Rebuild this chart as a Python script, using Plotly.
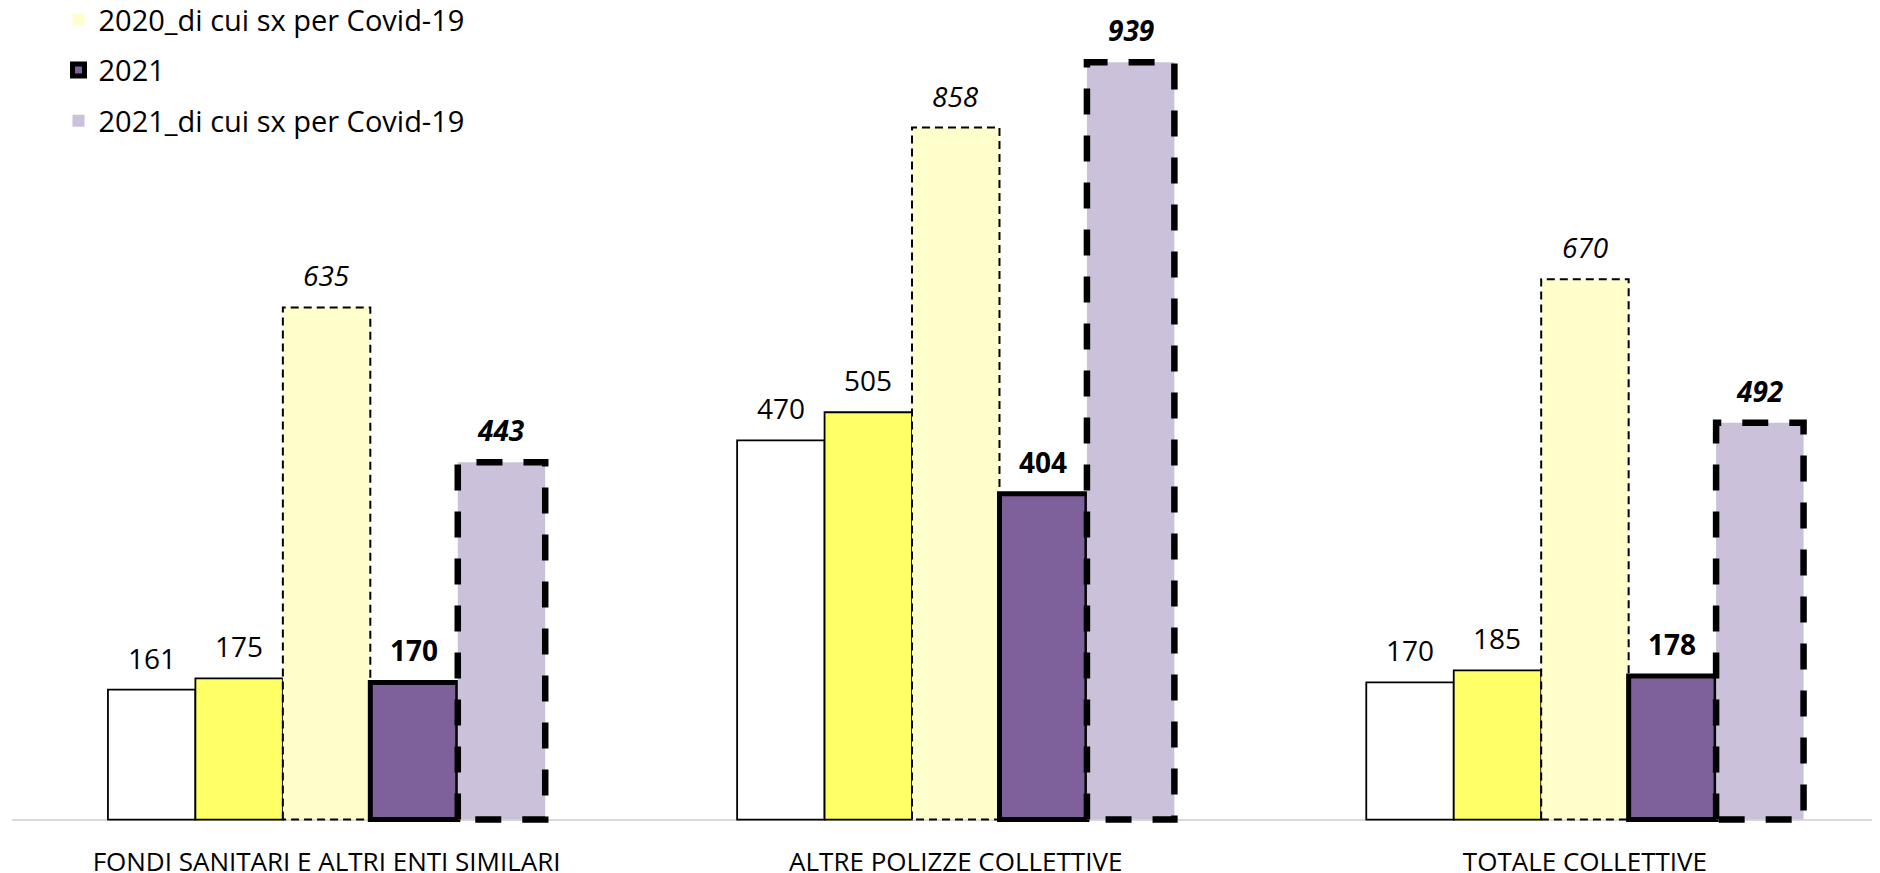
import plotly.graph_objects as go

categories = ["FONDI SANITARI E ALTRI ENTI SIMILARI", "ALTRE POLIZZE COLLETTIVE", "TOTALE COLLETTIVE"]
series_names = ["2019", "2020", "2020_di cui sx per Covid-19", "2021", "2021_di cui sx per Covid-19"]
v2019 = [161, 470, 170]
v2020 = [175, 505, 185]
v2020_covid = [635, 858, 670]
v2021 = [170, 404, 178]
v2021_covid = [443, 939, 492]

values = [v2019, v2020, v2020_covid, v2021, v2021_covid]
fills = ["#FFFFFF", "#FFFF66", "#FFFFCC", "#7E609A", "#CBC1DA"]
line_w = [1.8, 1.8, 0, 5, 0]
show_leg = [False, False, True, True, True]
fmt = ["{}", "{}", "<i>{}</i>", "<b>{}</b>", "<b><i>{}</i></b>"]

BW = 0.139
offsets = [(j - 2) * BW for j in range(5)]
FONT = "Open Sans"

fig = go.Figure()
for j in range(5):
    xs = [i + offsets[j] for i in range(len(categories))]
    fig.add_trace(go.Bar(
        x=xs, y=values[j], width=BW, name=series_names[j],
        marker=dict(color=fills[j], line=dict(color="#000000", width=line_w[j])),
        showlegend=show_leg[j], legendgroup=series_names[j],
    ))

# dashed outlines for the Covid-19 series
for j, (w, dash) in {2: (2, "8px,5px"), 4: (6.5, "26px,21px")}.items():
    xs, ys = [], []
    for i, v in enumerate(values[j]):
        x0 = i + offsets[j] - BW / 2
        x1 = i + offsets[j] + BW / 2
        xs += [x0, x0, x1, x1, x0, None]
        ys += [0, v, v, 0, 0, None]
    fig.add_trace(go.Scatter(x=xs, y=ys, mode="lines", showlegend=False,
                             line=dict(color="#000000", width=w, dash=dash),
                             hoverinfo="skip"))

annotations = []
for j in range(5):
    for i, v in enumerate(values[j]):
        annotations.append(dict(
            x=i + offsets[j], y=v, xref="x", yref="y",
            text=fmt[j].format(v), showarrow=False,
            yanchor="bottom", xanchor="center", yshift=11,
            font=dict(family=FONT, size=28, color="#000000"),
        ))

fig.update_layout(
    width=1880, height=873,
    margin=dict(l=4, r=8, t=5, b=54.5, autoexpand=False),
    paper_bgcolor="#FFFFFF", plot_bgcolor="#FFFFFF",
    barmode="overlay",
    font=dict(family=FONT, color="#000000"),
    annotations=annotations,
    legend=dict(
        x=0.0249, y=1.0234, xref="paper", yref="paper",
        xanchor="left", yanchor="top",
        font=dict(family=FONT, size=29, color="#000000"),
        tracegroupgap=10,
        bgcolor="rgba(0,0,0,0)",
    ),
    xaxis=dict(
        range=[-0.5, 2.469], tickmode="array",
        tickvals=list(range(len(categories))), ticktext=categories,
        showgrid=False, zeroline=False, showline=False, ticks="",
        tickfont=dict(family=FONT, size=26, color="#000000"),
        ticklabelstandoff=18,
    ),
    yaxis=dict(
        range=[-8, 1000], showgrid=False, showticklabels=False, ticks="",
        showline=False, zeroline=True, zerolinecolor="#D9D9D9", zerolinewidth=2,
    ),
)

fig.write_html("out.html")
